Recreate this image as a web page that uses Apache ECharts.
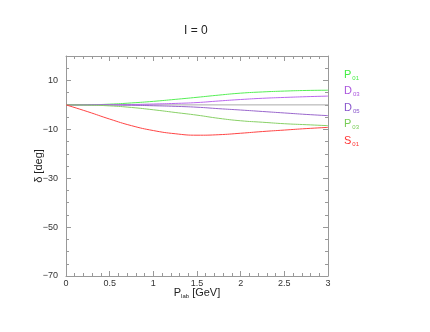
<!DOCTYPE html>
<html>
<head>
<meta charset="utf-8">
<script src="https://cdn.jsdelivr.net/npm/echarts@6/dist/echarts.min.js"></script>
<style>html,body{margin:0;padding:0;background:#fff;}#c{width:430px;height:332px;}</style>
</head>
<body>
<div id="c"></div>
<script>
var plab = [0, 0.25, 0.5, 0.75, 1.0, 1.25, 1.5, 1.75, 2.0, 2.25, 2.5, 2.75, 3.0];
var P01 = [0, 0.05, 0.3, 0.8, 1.45, 2.25, 3.1, 4.0, 4.8, 5.3, 5.65, 5.9, 6.0];
var D03 = [0, 0, 0.05, 0.15, 0.35, 0.6, 0.95, 1.6, 2.2, 2.7, 3.05, 3.35, 3.6];
var D05 = [0, 0, -0.05, -0.15, -0.35, -0.6, -0.95, -1.55, -2.1, -2.7, -3.3, -3.9, -4.4];
var P03 = [0, -0.1, -0.4, -1.05, -2.0, -3.1, -4.2, -5.5, -6.5, -7.1, -7.7, -8.1, -8.5];
var S01 = [0, -2.8, -5.8, -8.5, -10.5, -11.8, -12.4, -12.2, -11.6, -10.9, -10.3, -9.7, -9.2];
var zeroLine = [[0, 0], [3, 0]];
var xTickLabels = {'0':'0','0.5':'0.5','1':'1','1.5':'1.5','2':'2','2.5':'2.5','3':'3'};

function pairs(v){ return plab.map(function(x,i){return [x, v[i]];}); }

var chart = echarts.init(document.getElementById('c'));
var frame = '#999999';
var font = 'Liberation Sans, Arial, sans-serif';
function xAx(pos, show){
  return {
    type:'value', position:pos, min:0, max:3, interval:0.5,
    axisLine:{show:true, onZero:false, lineStyle:{color:frame, width:1}},
    axisTick:{show:true, inside:true, length:5, lineStyle:{color:frame}},
    minorTick:{show:true, splitNumber:5, length:3, lineStyle:{color:frame}},
    splitLine:{show:false},
    axisLabel:{show:show, color:'#333', fontSize:9, fontFamily:font, margin:3,
      formatter:function(v){ return xTickLabels[String(v)] || ''; }},
    name: show ? '{a|P}{b|lab}{a| [GeV]}' : '',
    nameLocation:'middle', nameGap:11, nameMoveOverlap:false,
    nameTextStyle:{rich:{a:{fontSize:11, fontFamily:font, color:'#222'}, b:{fontSize:6, fontFamily:font, color:'#222', verticalAlign:'bottom', padding:[6,0,0,0]}}}
  };
}
function yAx(pos, show){
  return {
    type:'value', position:pos, min:-70, max:20, interval:20,
    axisLine:{show:true, onZero:false, lineStyle:{color:frame, width:1}},
    axisTick:{show:true, inside:true, length:5, lineStyle:{color:frame}},
    minorTick:{show:true, splitNumber:4, length:3, lineStyle:{color:frame}},
    splitLine:{show:false},
    axisLabel:{show:show, color:'#333', fontSize:9, fontFamily:font, margin:8, showMaxLabel:false,
      formatter:function(v){ return v === 20 ? '' : String(v).replace('-', '\u2212'); }},
    name: show ? '\u03b4 [deg]' : '',
    nameLocation:'middle', nameGap:22, nameMoveOverlap:false,
    nameTextStyle:{fontSize:11, fontFamily:font, color:'#222'}
  };
}
function ser(name, data, color){
  return {name:name, type:'line', data:pairs(data), smooth:true, showSymbol:false, symbol:'none',
    lineStyle:{color:color, width:1}, z:3, animation:false};
}
function lbl(main, sub, y, color){
  return {type:'text', left:344, top:y-6,
    style:{text:'{m|'+main+'}{s|'+sub+'}', fill:color,
      rich:{m:{fontSize:11, fontFamily:font, fill:color}, s:{fontSize:6, fontFamily:font, fill:color, padding:[7,0,0,1]}}}};
}
chart.setOption({
  animation:false,
  grid:{left:66, right:102, top:56, bottom:56},
  xAxis:[xAx('bottom', true), xAx('top', false)],
  yAxis:[yAx('left', true), yAx('right', false)],
  series:[
    {type:'line', data:zeroLine, showSymbol:false, symbol:'none', lineStyle:{color:'#aaaaaa', width:1}, z:1, animation:false},
    ser('P01', P01, '#55ee55'),
    ser('D03', D03, '#bb66ee'),
    ser('D05', D05, '#9966cc'),
    ser('P03', P03, '#88d066'),
    ser('S01', S01, '#ff4444')
  ],
  graphic:[
    {type:'text', left:184, top:25, style:{text:'I = 0', fontSize:12, fontFamily:font, fill:'#222'}},
    lbl('P', '01', 75, '#44ee44'),
    lbl('D', '03', 91, '#aa55dd'),
    lbl('D', '05', 108, '#8855cc'),
    lbl('P', '03', 124, '#77cc55'),
    lbl('S', '01', 141, '#ff3333')
  ]
});
</script>
</body>
</html>
